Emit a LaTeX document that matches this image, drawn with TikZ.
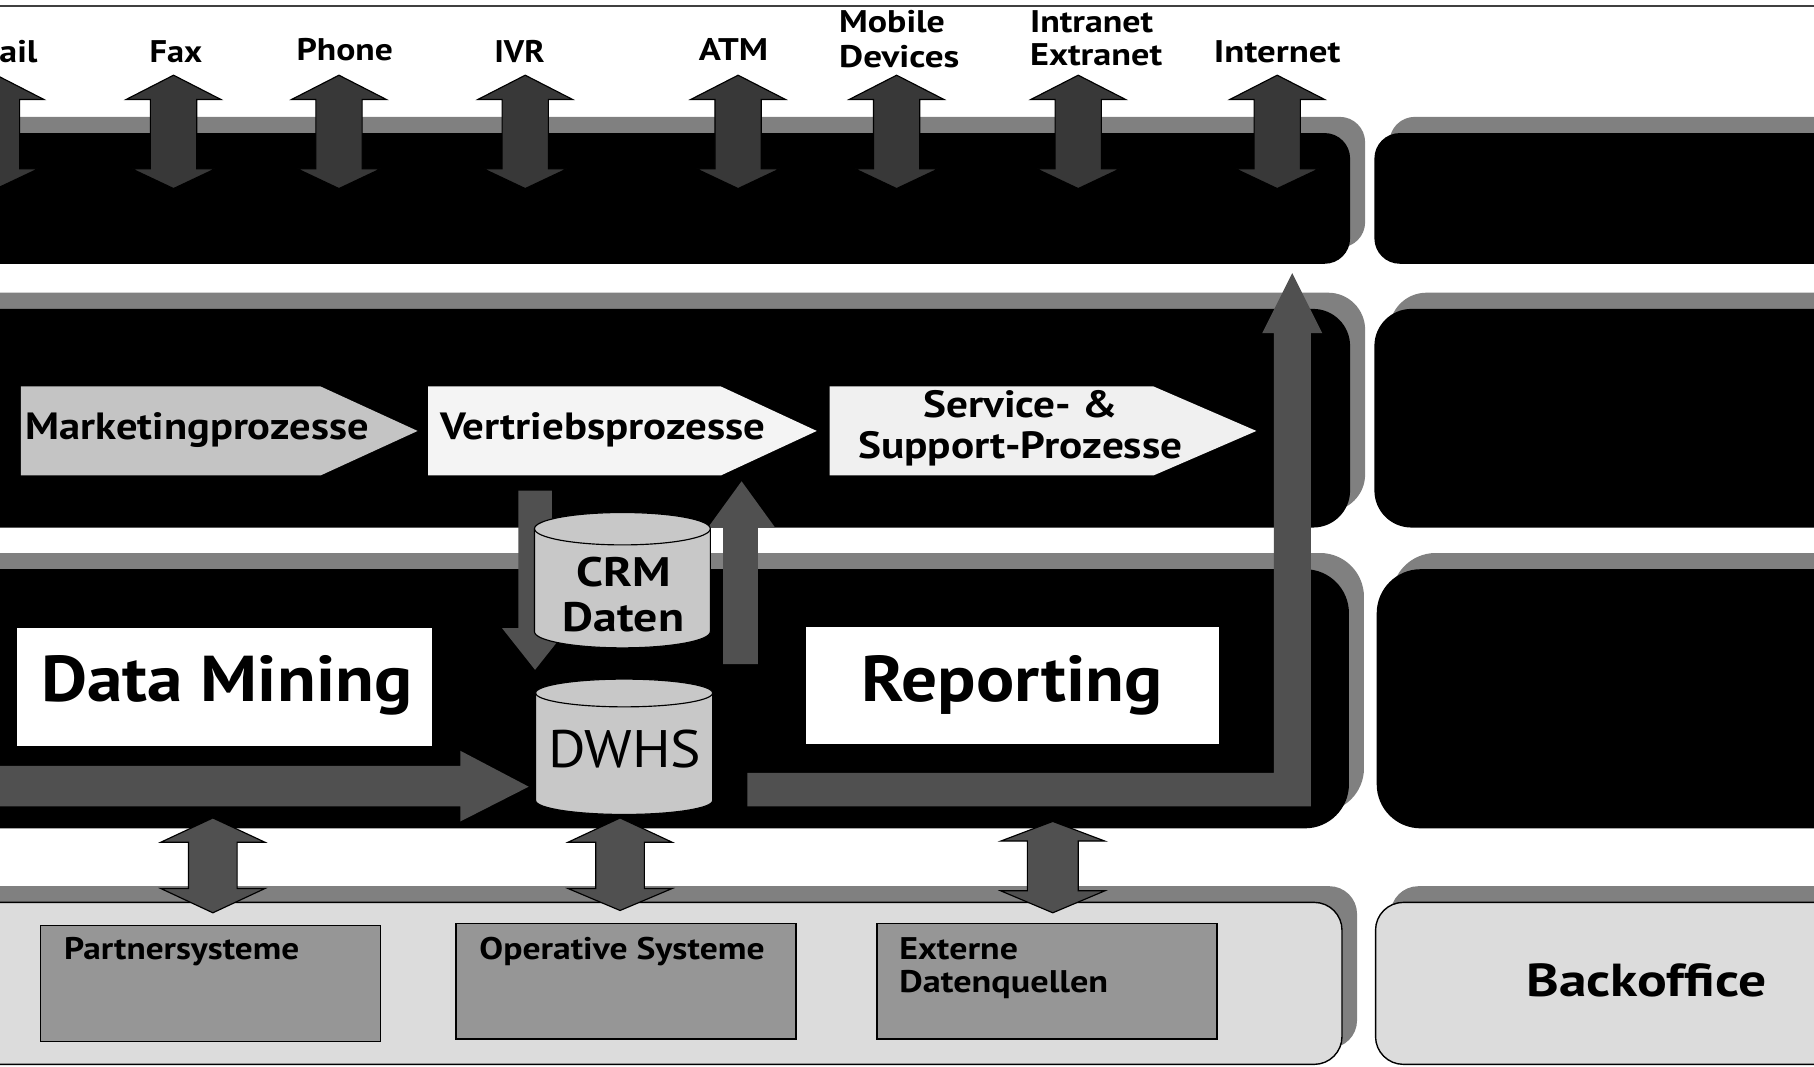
\documentclass[tikz,border=0pt]{standalone}
\usepackage{fontspec}
\setmainfont{PT Sans}
\definecolor{shd}{HTML}{808080}
\definecolor{chanarrow}{HTML}{383838}
\definecolor{flowarrow}{HTML}{505050}
\definecolor{backfill}{HTML}{DCDCDC}
\definecolor{innerfill}{HTML}{969696}
\definecolor{mktfill}{HTML}{C4C4C4}
\definecolor{vtrfill}{HTML}{F4F4F4}
\definecolor{srvfill}{HTML}{F0F0F0}
\definecolor{cylfill}{HTML}{C8C8C8}
\definecolor{topline}{HTML}{404040}
\newcommand\DArrow[9]{%
  \filldraw[fill=#1, draw=black, line width=0.5pt, line join=miter]
    (#2,#3) -- ({#2+#7},#4) -- ({#2+#8},#4) -- ({#2+#8},#5) -- ({#2+#9},#5) -- (#2,#6)
    -- ({#2-#9},#5) -- ({#2-#8},#5) -- ({#2-#8},#4) -- ({#2-#7},#4) -- cycle;}
\newcommand\LayerPair[6]{% top, bottom, right of left box, left of right box, radius, style
  \fill[shd, rounded corners=#5] (-47,{#1-14}) rectangle ({#3+13},{#2-14});
  \fill[shd, rounded corners=#5] ({#4+13},{#1-14}) rectangle (1660,{#2-14});
  \path[#6, rounded corners=#5] (-60,#1) rectangle (#3,#2);
  \path[#6, rounded corners=#5] (#4,#1) rectangle (1640,#2);}
\newcommand\hs[2]{\scalebox{#1}[1]{#2}}
\tikzset{
  darklayer/.style={fill=black},
  lightlayer/.style={fill=backfill, draw=black, line width=0.6pt},
  chan/.style={font=\fontsize{13.5}{15.5}\selectfont\bfseries, inner sep=0pt},
  proc/.style={font=\fontsize{16.4}{17.6}\selectfont\bfseries, inner sep=0pt},
  bigbox/.style={fill=white, inner sep=0pt},
  bigtext/.style={font=\fontsize{28}{30}\selectfont\bfseries, inner sep=0pt},
  cyltext/.style={font=\fontsize{17.8}{20}\selectfont\bfseries, inner sep=0pt, align=center},
  systext/.style={font=\fontsize{13.5}{14.5}\selectfont\bfseries, inner sep=0pt},
  cyl/.style={fill=cylfill, draw=black, line width=0.5pt},
  sysbox/.style={fill=innerfill, draw=black, line width=0.6pt}
}
\begin{document}
\begin{tikzpicture}[x=0.5pt,y=-0.5pt]
\useasboundingbox (0,0) rectangle (1568,922);
\fill[white] (0,0) rectangle (1568,922);
\draw[topline, line width=1pt] (0,5) -- (1568,5);

% layers
\LayerPair{115}{228}{1167}{1188}{11pt}{darklayer}
\LayerPair{267}{456}{1167}{1188}{16pt}{darklayer}
\LayerPair{492}{716}{1166}{1190}{19pt}{darklayer}
\LayerPair{780}{920}{1160}{1189}{12pt}{lightlayer}

% channel arrows
\foreach \cx in {-3,150,293,454,638,775,932,1104}{
  \DArrow{chanarrow}{\cx}{65}{86}{146}{163}{41}{20}{36}
}
% channel labels
\node[chan, anchor=base] (mail) at (16,54) {\hs{1.15}{ail}};
\node[chan, anchor=base] (fax) at (152,54) {\hs{1.1}{Fax}};
\node[chan, anchor=base] (phone) at (298,52) {\hs{1.14}{Phone}};
\node[chan, anchor=base] (ivr) at (449,54) {\hs{1.08}{IVR}};
\node[chan, anchor=base] (atm) at (634,52) {\hs{1.17}{ATM}};
\node[chan, anchor=base west] (mobile) at (725,28) {\hs{1.15}{Mobile}};
\node[chan, anchor=base west] (devices) at (725,58) {\hs{1.19}{Devices}};
\node[chan, anchor=base west] (intranet) at (890,28) {\hs{1.15}{Intranet}};
\node[chan, anchor=base west] (extranet) at (890,57) {\hs{1.16}{Extranet}};
\node[chan, anchor=base] (internet) at (1104,54) {\hs{1.18}{Internet}};

% process chevrons
\fill[mktfill] (18,334) -- (277,334) -- (361,372.5) -- (277,411) -- (18,411) -- cycle;
\fill[vtrfill] (370,334) -- (623,334) -- (706,372.5) -- (623,411) -- (370,411) -- cycle;
\fill[srvfill] (717,334) -- (997,334) -- (1086,372.5) -- (997,411) -- (717,411) -- cycle;
\node[proc, anchor=base west] (mkt) at (22,380) {\hs{1.12}{Marketingprozesse}};
\node[proc, anchor=base west] (vtr) at (380,380) {\hs{1.13}{Vertriebsprozesse}};
\node[proc, anchor=base] (srv1) at (882,361) {\hs{1.14}{Service- \&}};
\node[proc, anchor=base] (srv2) at (882,396) {\hs{1.14}{Support-Prozesse}};

% reporting L-arrow
\coordinate (repstart) at (646,682);
\coordinate (reptip) at (1117,236);
\fill[flowarrow] (646,668) -- (1101,668) -- (1101,288) -- (1091,288) -- (reptip)
  -- (1143,288) -- (1133,288) -- (1133,697) -- (646,697) -- cycle;

% CRM arrows
\fill[flowarrow] (448,424) -- (477,424) -- (477,543) -- (491,543) -- (462.5,579)
  -- (434,543) -- (448,543) -- cycle;
\fill[flowarrow] (625,574) -- (625,456) -- (612,456) -- (641,416) -- (670,456)
  -- (655,456) -- (655,574) -- cycle;

% CRM cylinder
\filldraw[cyl] (462,457) -- (462,546) arc[start angle=180, end angle=360, x radius=38pt, y radius=7pt]
  -- (614,457) arc[start angle=0, end angle=180, x radius=38pt, y radius=7pt] -- cycle;
\draw[black, line width=0.5pt] (462,457) arc[start angle=180, end angle=360, x radius=38pt, y radius=7pt];
\node[cyltext, anchor=base] (crm1) at (539,507) {\hs{1.17}{CRM}};
\node[cyltext, anchor=base] (crm2) at (539,546) {\hs{1.16}{Daten}};

% Data Mining and Reporting boxes
\node[bigbox, minimum width=179pt, minimum height=51pt] (dmbox) at (194,594) {};
\node[bigtext, anchor=base] (dm) at (196,606) {\hs{1.1}{Data Mining}};
\node[bigbox, minimum width=178.5pt, minimum height=50.5pt] (repbox) at (875.5,592.5) {};
\node[bigtext, anchor=base] (rep) at (875,606) {\hs{1.1}{Reporting}};

% DWHS arrow
\fill[flowarrow] (-10,662) -- (398,662) -- (398,649) -- (457,680) -- (398,710)
  -- (398,697) -- (-10,697) -- cycle;

% DWHS cylinder
\filldraw[cyl] (463,599) -- (463,692) arc[start angle=180, end angle=360, x radius=38.25pt, y radius=6pt]
  -- (616,599) arc[start angle=0, end angle=180, x radius=38.25pt, y radius=6pt] -- cycle;
\draw[black, line width=0.5pt] (463,599) arc[start angle=180, end angle=360, x radius=38.25pt, y radius=6pt];
\node[font=\fontsize{22.8}{24}\selectfont, inner sep=0pt, anchor=base] (dwhs) at (540,663) {\hs{1.09}{DWHS}};

% arrows between layer 3 and 4
\DArrow{flowarrow}{184}{707}{728}{768}{789}{45}{21}{45}
\DArrow{flowarrow}{536}{707}{728}{768}{787}{45}{21}{45}
\DArrow{flowarrow}{910}{710}{727}{770}{789}{45}{22}{45}

% systems
\path[sysbox] (35,800) rectangle (329,900);
\path[sysbox] (394,798) rectangle (688,898);
\path[sysbox] (758,798) rectangle (1052,898);
\node[systext, anchor=base west] (partner) at (55,829) {\hs{1.13}{Partnersysteme}};
\node[systext, anchor=base west] (operativ) at (414,829) {\hs{1.14}{Operative Systeme}};
\node[systext, anchor=base west] (ext1) at (777,829) {\hs{1.15}{Externe}};
\node[systext, anchor=base west] (ext2) at (777,858) {\hs{1.16}{Datenquellen}};
\node[font=\fontsize{20}{22}\selectfont\bfseries, inner sep=0pt, anchor=base] (backoffice) at (1423,861) {\hs{1.2}{Backoffice}};
\end{tikzpicture}
\end{document}
